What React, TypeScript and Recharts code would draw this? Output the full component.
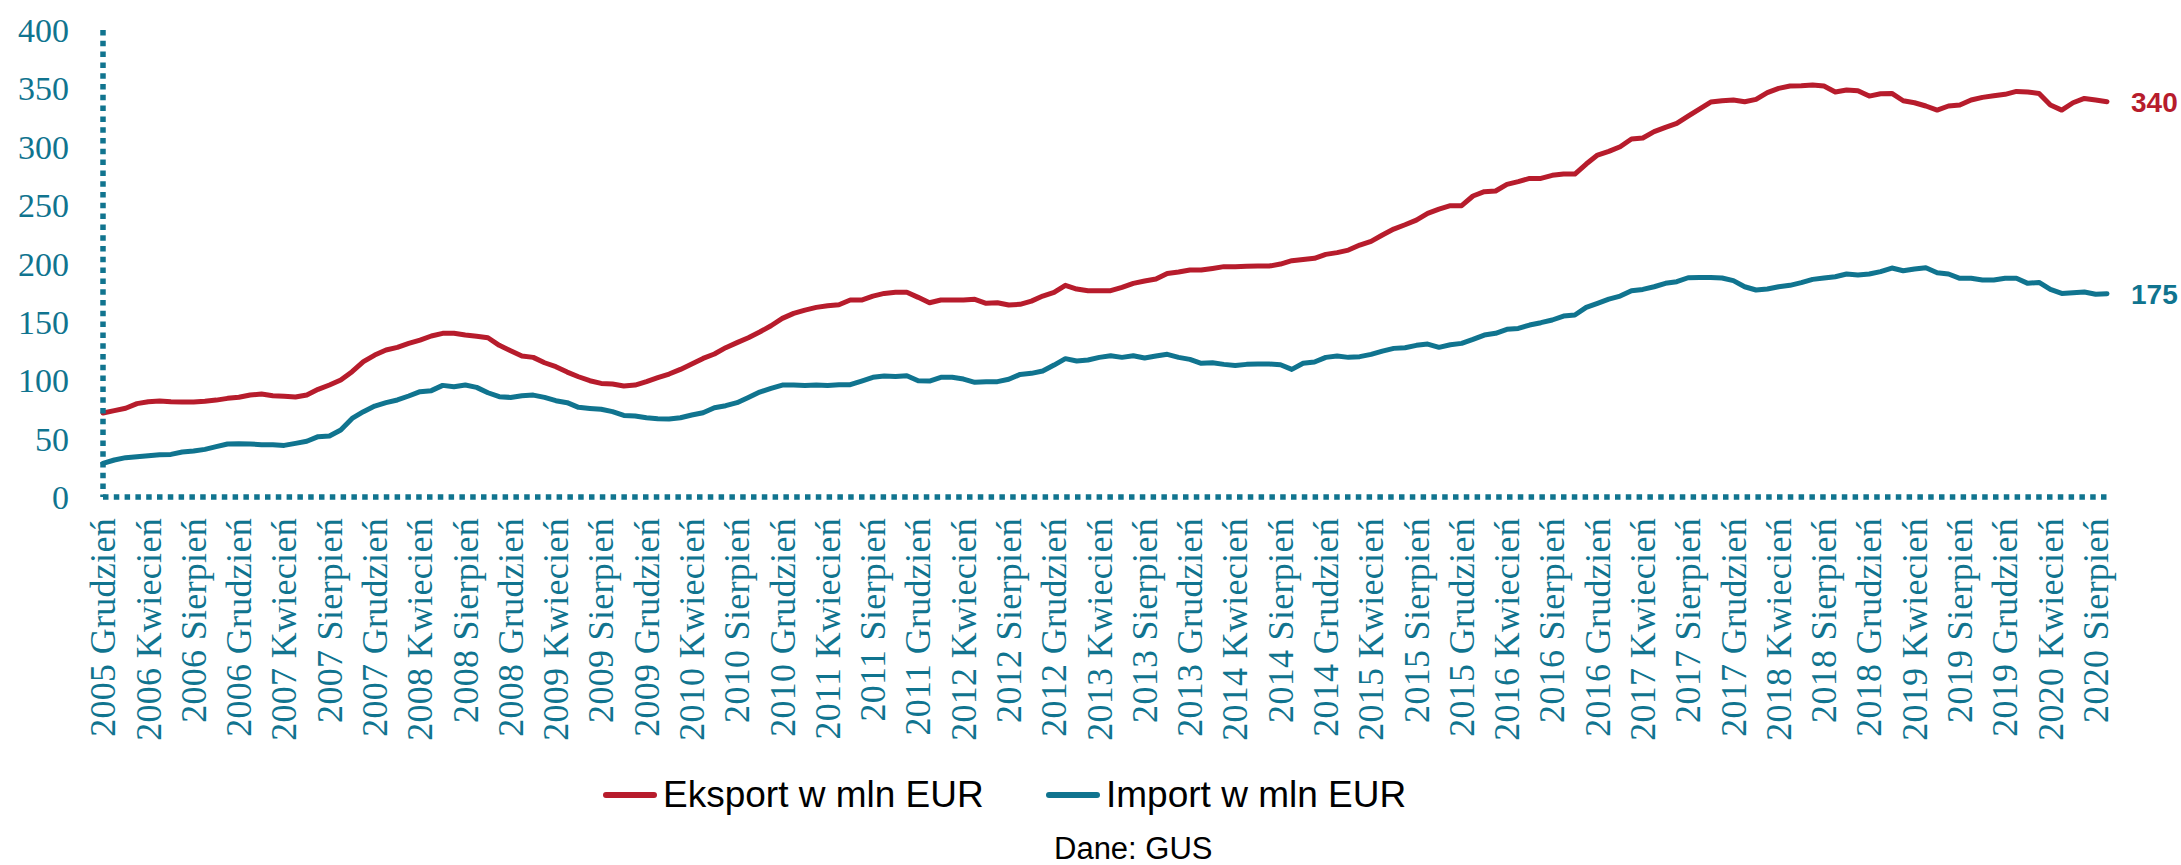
// Eksport / import w mln EUR, dane miesięczne GUS

import React from 'react';

import { LineChart, Line, XAxis, YAxis, LabelList } from 'recharts';

const RED = '#b71c2c';
const TEAL = '#10748f';
const SERIF = '"Liberation Serif", "Times New Roman", serif';
const SANS = '"Liberation Sans", Arial, sans-serif';

const MONTH_NAMES = ['Styczeń', 'Luty', 'Marzec', 'Kwiecień', 'Maj', 'Czerwiec', 'Lipiec', 'Sierpień', 'Wrzesień', 'Październik', 'Listopad', 'Grudzień'];
const FIRST_YEAR = 2005;
const FIRST_MONTH = 11; // grudzień

const EKSPORT = [
    72, 74, 76, 80, 81.6, 82.2, 81.6, 81.3, 81.3, 82, 83, 84.5, 85.4, 87.4, 88.2, 86.8, 86.2, 85.6, 87.4, 92.2,
    95.9, 100.2, 107.3, 115.9, 121.6, 125.9, 128.2, 131.6, 134.4, 137.9, 140.2, 140.2, 138.7, 137.6, 136.4, 129.9, 125.3, 120.7, 119.6, 115,
    111.6, 107, 103, 99.6, 97.3, 96.8, 95.1, 95.9, 98.8, 102.2, 105.3, 109.3, 113.9, 118.7, 122.5, 127.9, 132.2, 136.4, 141.3, 146.7,
    153, 157.3, 160.1, 162.4, 163.8, 164.7, 168.7, 168.7, 172.1, 174.4, 175.3, 175.3, 171, 166.4, 168.7, 168.7, 168.7, 169.3, 165.9, 166.4,
    164.4, 165, 167.8, 172.1, 175.3, 181.3, 178.1, 176.7, 176.7, 176.7, 179.6, 183, 185, 186.7, 191.5, 192.7, 194.4, 194.4, 195.8, 197.3,
    197.3, 197.6, 197.8, 197.8, 199.5, 202.4, 203.5, 204.4, 207.8, 209.3, 211.5, 215.8, 219, 224.4, 229.5, 233.2, 237.2, 243, 246.6, 249.5,
    249.5, 257.8, 261.5, 262.1, 267.8, 270.1, 272.9, 272.9, 275.5, 276.6, 276.6, 285.2, 292.9, 296, 300, 306.6, 307.5, 312.9, 316.6, 320,
    326.3, 332.3, 338.3, 339.4, 340, 338.6, 340.6, 346.3, 350, 352, 352.3, 352.9, 352, 346.9, 348.6, 348, 343.4, 345.4, 345.7, 339.4,
    337.7, 334.9, 331.4, 334.9, 335.7, 340, 342.3, 343.7, 344.9, 347.4, 346.9, 345.7, 335.7, 331.4, 337.7, 341.4, 340, 338.6,
];

const IMPORT = [
    28.8, 31.7, 33.7, 34.5, 35.4, 36.2, 36.5, 38.5, 39.4, 40.8, 43.1, 45.4, 45.7, 45.4, 44.8, 44.8, 44.2, 45.9, 47.7, 51.7,
    52.2, 57.4, 67.3, 73.1, 77.9, 80.8, 83.1, 86.5, 90.2, 91.1, 95.6, 94.5, 95.9, 93.9, 89.3, 85.9, 85.3, 86.8, 87.3, 85.3,
    82.5, 80.8, 76.8, 75.9, 75.1, 73.1, 69.9, 69.4, 67.9, 67.1, 66.8, 67.9, 70.2, 72.2, 76.5, 78.2, 80.8, 85.3, 89.9, 93.1,
    95.9, 95.9, 95.6, 95.9, 95.6, 96.2, 96.2, 99.3, 102.5, 103.6, 103.3, 103.9, 99.6, 99.3, 102.5, 102.5, 101, 98.2, 98.8, 98.8,
    100.8, 105, 105.9, 107.9, 113, 118.5, 116.5, 117.3, 119.6, 121, 119.6, 121, 119, 120.7, 122.2, 119.6, 117.9, 114.5, 115, 113.6,
    112.7, 113.6, 113.9, 113.9, 113.3, 109.3, 114.5, 115.6, 119.6, 120.7, 119.6, 120.2, 122.2, 125, 127.3, 127.9, 129.9, 131, 128.2, 130.4,
    131.6, 135, 138.7, 140.2, 143.6, 144.4, 147.3, 149.3, 151.6, 155, 155.9, 162.4, 165.9, 169.5, 172.1, 176.7, 177.8, 180.1, 183, 184.4,
    187.8, 188.1, 188.1, 187.6, 185.3, 180.1, 177.3, 178.1, 180.1, 181.3, 183.6, 186.4, 187.6, 188.7, 191, 190.1, 191, 193, 196.1, 193.8,
    195.3, 196.4, 192.1, 191, 187.3, 187.3, 185.8, 185.8, 187.3, 187.3, 183, 183.8, 177.8, 174.4, 175, 175.6, 173.6, 174.1,
];

const Y_TICKS = [0, 50, 100, 150, 200, 250, 300, 350, 400];
const END_LABEL_EKSPORT = '340';
const END_LABEL_IMPORT = '175';

const LEGEND_EKSPORT = 'Eksport w mln EUR';
const LEGEND_IMPORT = 'Import w mln EUR';
const SOURCE = 'Dane: GUS';

const MONTHS = EKSPORT.map((_, i) => {
    const m = FIRST_MONTH + i;
    return `${FIRST_YEAR + Math.floor(m / 12)} ${MONTH_NAMES[m % 12]}`;
});

const chartData = MONTHS.map((month, i) => ({ month, eksport: EKSPORT[i], import: IMPORT[i] }));
const LAST = chartData.length - 1;

const dotted = { stroke: TEAL, strokeWidth: 5.5, strokeDasharray: '5.5 5.3' };

function MonthTick({ x, y, payload }: any) {
    return (
        <text
            x={x}
            y={y}
            transform={`rotate(-90 ${x} ${y})`}
            textAnchor="end"
            dy="0.34em"
            fill={TEAL}
            fontSize={36}
            letterSpacing={0.3}
            fontFamily={SERIF}
        >
            {payload.value}
        </text>
    );
}

const endLabel = (text: string, color: string) => (props: any) => {
    if (props.index !== LAST) return null;
    return (
        <text x={props.x + 24} y={props.y} dy="0.36em" fill={color} fontSize={28} fontWeight="bold" fontFamily={SANS}>
            {text}
        </text>
    );
};

function LegendItem({ left, color, text }: { left: number; color: string; text: string }) {
    return (
        <div style={{ position: 'absolute', left, top: 775, height: 40, display: 'flex', alignItems: 'center' }}>
            <div style={{ width: 54, height: 6, background: color, borderRadius: 3, marginRight: 6 }} />
            <span style={{ fontFamily: SANS, fontSize: 37, lineHeight: '40px', color: '#000', whiteSpace: 'nowrap' }}>{text}</span>
        </div>
    );
}

export default function App() {
    return (
        <div style={{ position: 'absolute', left: 0, top: 0, width: 2181, height: 865, background: '#fff' }}>
            <LineChart width={2181} height={865} data={chartData} margin={{ top: 30, right: 74, bottom: 0, left: 0 }}>
                <XAxis
                    dataKey="month"
                    interval={3}
                    height={368}
                    tickLine={false}
                    tickSize={0}
                    tickMargin={21}
                    axisLine={dotted}
                    tick={<MonthTick />}
                />
                <YAxis
                    width={103}
                    domain={[0, 400]}
                    ticks={Y_TICKS}
                    tickLine={false}
                    tickSize={0}
                    tickMargin={34}
                    axisLine={dotted}
                    tick={{ fill: TEAL, fontSize: 34, fontFamily: SERIF }}
                />
                <Line type="linear" dataKey="eksport" stroke={RED} strokeWidth={5} dot={false} strokeLinejoin="round" strokeLinecap="round" isAnimationActive={false}>
                    <LabelList dataKey="eksport" content={endLabel(END_LABEL_EKSPORT, RED)} />
                </Line>
                <Line type="linear" dataKey="import" stroke={TEAL} strokeWidth={5} dot={false} strokeLinejoin="round" strokeLinecap="round" isAnimationActive={false}>
                    <LabelList dataKey="import" content={endLabel(END_LABEL_IMPORT, TEAL)} />
                </Line>
            </LineChart>
            <LegendItem left={603} color={RED} text={LEGEND_EKSPORT} />
            <LegendItem left={1046} color={TEAL} text={LEGEND_IMPORT} />
            <div style={{ position: 'absolute', left: 1054, top: 829, fontFamily: SANS, fontSize: 31, lineHeight: '40px', color: '#000' }}>{SOURCE}</div>
        </div>
    );
}
